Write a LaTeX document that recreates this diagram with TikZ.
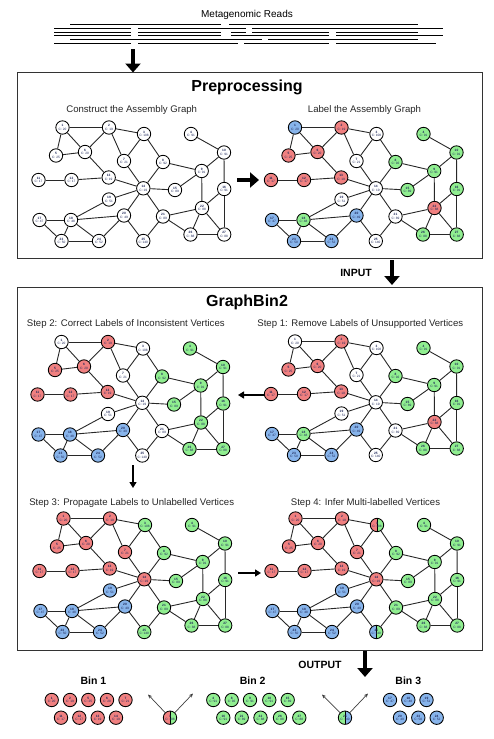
\documentclass[tikz,border=0pt]{standalone}
\usepackage{fontspec}
\setmainfont{Liberation Sans}
\usetikzlibrary{arrows.meta}
\definecolor{vred}{RGB}{240,128,128}
\definecolor{vgreen}{RGB}{144,238,144}
\definecolor{vblue}{RGB}{135,180,235}
\definecolor{vtext}{RGB}{30,40,90}
\definecolor{edgec}{RGB}{40,40,40}
\def\V#1#2#3#4{\expandafter\def\csname px#1\endcsname{#2}\expandafter\def\csname py#1\endcsname{#3}\expandafter\def\csname cv#1\endcsname{#4}}
\V{1}{62.5}{127.5}{20}
\V{2}{109}{127.5}{19}
\V{3}{144}{134}{108}
\V{4}{191}{134}{91}
\V{5}{56}{155.5}{25}
\V{6}{85}{152}{20}
\V{7}{124}{161}{21}
\V{8}{163}{162}{92}
\V{9}{201.7}{171}{91}
\V{10}{224}{152.5}{91}
\V{11}{38.5}{180}{17}
\V{12}{71.5}{180}{17}
\V{13}{108.7}{177.5}{19}
\V{14}{143.3}{188.3}{19}
\V{15}{175}{190}{89}
\V{16}{224.2}{189}{91}
\V{17}{39.5}{220}{47}
\V{18}{71}{220}{48}
\V{19}{109}{199.5}{51}
\V{20}{124}{215.5}{49}
\V{21}{163}{216.5}{89}
\V{22}{202}{208}{88}
\V{23}{61.5}{241}{50}
\V{24}{99}{241}{52}
\V{25}{143.3}{241}{140}
\V{26}{190.5}{234.5}{88}
\V{27}{224.2}{234.5}{88}
\def\edgelist{1/2,1/5,1/6,5/6,2/6,2/3,2/7,6/13,3/7,3/8,7/14,8/14,8/9,9/10,4/10,9/15,9/22,10/16,16/22,16/27,22/26,22/27,26/27,21/22,21/26,14/15,13/14,12/13,11/12,14/19,14/20,14/21,20/25,21/25,17/18,17/23,18/23,18/24,18/19,18/20,23/24,20/24}
\tikzset{
  vtx/.style={circle, draw=black, line width=0.85pt, minimum size=13.4pt, inner sep=0pt, align=center,
    font=\fontsize{3.2}{3.4}\selectfont, text=vtext},
  cW/.style={fill=white}, cR/.style={fill=vred}, cG/.style={fill=vgreen}, cB/.style={fill=vblue},
  halves/.style n args={2}{path picture={
    \fill[#1] (path picture bounding box.south west) rectangle (path picture bounding box.north);
    \fill[#2] (path picture bounding box.south) rectangle (path picture bounding box.north east);
    \draw[line width=0.8pt] (path picture bounding box.north) -- (path picture bounding box.south);}},
  cRG/.style={halves={vred}{vgreen}}, cBG/.style={halves={vblue}{vgreen}}, cGB/.style={halves={vgreen}{vblue}},
  edge/.style={draw=edgec, line width=0.9pt},
  readline/.style={draw=black, line width=0.9pt},
  panelbox/.style={draw=black!80, line width=0.9pt},
  bigtitle/.style={font=\bfseries\fontsize{16}{18}\selectfont},
  subtitle/.style={font=\fontsize{9.6}{11}\selectfont, text=black!85},
  boldlab/.style={font=\bfseries\fontsize{10.5}{12}\selectfont},
  blockarrow/.style={line width=4.5pt, -{Triangle[length=9pt,width=15pt]}},
  thinarrow/.style={line width=1.4pt, -{Triangle[length=6pt,width=7pt]}},
  binarrow/.style={draw=black!75, line width=0.7pt, -{Stealth[length=4pt,width=3.5pt]}},
}
\newcommand\drawpanel[4]{%
  \foreach \cc [count=\i] in {#4} {
    \pgfmathsetmacro\xx{\csname px\i\endcsname+#2}
    \pgfmathsetmacro\yy{\csname py\i\endcsname+#3}
    \node[vtx,\cc] (#1\i) at (\xx,\yy) {\textbf{\i}\\C: \csname cv\i\endcsname};
  }
  \foreach \u/\v in \edgelist { \draw[edge] (#1\u) -- (#1\v); }
}
\newcommand\binnode[5]{% name, x, y, vertex number, style
  \node[vtx,#5] (#1) at (#2,#3) {\textbf{#4}\\C: \csname cv#4\endcsname};
}
\begin{document}
\begin{tikzpicture}[x=1pt,y=-1pt]
\useasboundingbox (0,0) rectangle (494,739);
% reads
\node[font=\fontsize{10}{12}\selectfont] (reads) at (247,14.5) {Metagenomic Reads};
\foreach \y/\a/\b in {24/70/221, 24/229/418,
  28/54/131, 28/138/246, 28/252/443,
  32/54/131, 32/138/221, 32/231/246, 32/252/329, 32/336/418,
  35.5/54/131, 35.5/138/221, 35.5/231/329, 35.5/336/443,
  39.5/70/262, 39.5/268/418,
  43/54/131, 43/138/238, 43/244/329, 43/336/436}
  { \draw[readline] (\a,\y) -- (\b,\y); }
\coordinate (rA) at (133,49);
\coordinate (rB) at (133,72.5);
\draw[blockarrow] (rA) -- (rB);
% preprocessing box
\draw[panelbox] (17,72.5) rectangle (482,258);
\node[bigtitle] (pre) at (247,87) {Preprocessing};
\node[subtitle] (stA) at (131.7,110) {Construct the Assembly Graph};
\node[subtitle] (stB) at (364.5,110) {Label the Assembly Graph};
\drawpanel{a}{0}{0}{cW,cW,cW,cW,cW,cW,cW,cW,cW,cW,cW,cW,cW,cW,cW,cW,cW,cW,cW,cW,cW,cW,cW,cW,cW,cW,cW}
\drawpanel{b}{232.5}{0}{cB,cR,cW,cG,cR,cR,cW,cG,cG,cG,cR,cR,cR,cW,cG,cG,cB,cG,cW,cB,cW,cR,cB,cB,cW,cG,cG}
\coordinate (abA) at (237,180);
\coordinate (abB) at (259,180);
\draw[blockarrow] (abA) -- (abB);
% input
\node[boldlab] (input) at (356,273) {INPUT};
\coordinate (inA) at (392,260);
\coordinate (inB) at (392,285);
\draw[blockarrow] (inA) -- (inB);
% graphbin2 box
\draw[panelbox] (17,287) rectangle (482,650.5);
\node[bigtitle] (gb) at (247,302) {GraphBin2};
\node[subtitle] (st2) at (125.8,324.5) {Step 2: Correct Labels of Inconsistent Vertices};
\node[subtitle] (st1) at (360.3,324.5) {Step 1: Remove Labels of Unsupported Vertices};
\node[subtitle] (st3) at (131.7,502.7) {Step 3: Propagate Labels to Unlabelled Vertices};
\node[subtitle] (st4) at (365.5,502.7) {Step 4: Infer Multi-labelled Vertices};
\drawpanel{c}{232.5}{214}{cW,cR,cW,cG,cR,cR,cW,cG,cG,cG,cR,cR,cR,cW,cG,cG,cB,cG,cW,cB,cW,cR,cB,cB,cW,cG,cG}
\drawpanel{d}{-1}{214.5}{cW,cR,cW,cG,cR,cR,cW,cG,cG,cG,cR,cR,cR,cW,cG,cG,cB,cB,cW,cB,cW,cG,cB,cB,cW,cG,cG}
\drawpanel{e}{1}{391}{cR,cR,cG,cG,cR,cR,cR,cG,cG,cG,cR,cR,cR,cR,cG,cG,cB,cB,cB,cB,cG,cG,cB,cB,cG,cG,cG}
\drawpanel{f}{233}{391}{cR,cR,cRG,cG,cR,cR,cR,cG,cG,cG,cR,cR,cR,cR,cG,cG,cB,cB,cB,cB,cG,cG,cB,cB,cBG,cG,cG}
\coordinate (s12A) at (264,395);
\coordinate (s12B) at (238,395);
\draw[thinarrow] (s12A) -- (s12B);
\coordinate (s23A) at (133,465);
\coordinate (s23B) at (133,488);
\draw[thinarrow] (s23A) -- (s23B);
\coordinate (s34A) at (238,573);
\coordinate (s34B) at (261,573);
\draw[thinarrow] (s34A) -- (s34B);
% output
\node[boldlab] (output) at (320,664.5) {OUTPUT};
\coordinate (outA) at (365,651);
\coordinate (outB) at (365,677);
\draw[blockarrow] (outA) -- (outB);
\node[boldlab] (bin1) at (93.5,681) {Bin 1};
\node[boldlab] (bin2) at (252.7,681) {Bin 2};
\node[boldlab] (bin3) at (408.3,681) {Bin 3};
\binnode{g1}{51.7}{700}{1}{cR}
\binnode{g2}{70}{700}{2}{cR}
\binnode{g5}{88.3}{700}{5}{cR}
\binnode{g6}{107}{700}{6}{cR}
\binnode{g7}{125.5}{700}{7}{cR}
\binnode{g11}{61}{717.7}{11}{cR}
\binnode{g12}{79.3}{717.7}{12}{cR}
\binnode{g13}{97.7}{717.7}{13}{cR}
\binnode{g14}{116}{717.7}{14}{cR}
\binnode{g3}{170}{717.7}{3}{cRG}
\binnode{g4}{213.3}{700}{4}{cG}
\binnode{g8}{231.7}{700}{8}{cG}
\binnode{g9}{250}{700}{9}{cG}
\binnode{g10}{269.3}{700}{10}{cG}
\binnode{g15}{287.7}{700}{15}{cG}
\binnode{g16}{223.3}{717.7}{16}{cG}
\binnode{g21}{241.7}{717.7}{21}{cG}
\binnode{g22}{260.5}{717.7}{22}{cG}
\binnode{g26}{280}{717.7}{26}{cG}
\binnode{g27}{299.3}{717.7}{27}{cG}
\binnode{g25}{345}{717.7}{25}{cGB}
\binnode{g17}{390}{700}{17}{cB}
\binnode{g18}{408.3}{700}{18}{cB}
\binnode{g19}{426.5}{700}{19}{cB}
\binnode{g20}{400}{717.7}{20}{cB}
\binnode{g23}{418.3}{717.7}{23}{cB}
\binnode{g24}{436.7}{717.7}{24}{cB}
\coordinate (t3a) at (148,694.5);
\coordinate (t3b) at (193,693.5);
\coordinate (t25a) at (322,694.5);
\coordinate (t25b) at (368,693.5);
\draw[binarrow] (g3) -- (t3a);
\draw[binarrow] (g3) -- (t3b);
\draw[binarrow] (g25) -- (t25a);
\draw[binarrow] (g25) -- (t25b);
\end{tikzpicture}
\end{document}
